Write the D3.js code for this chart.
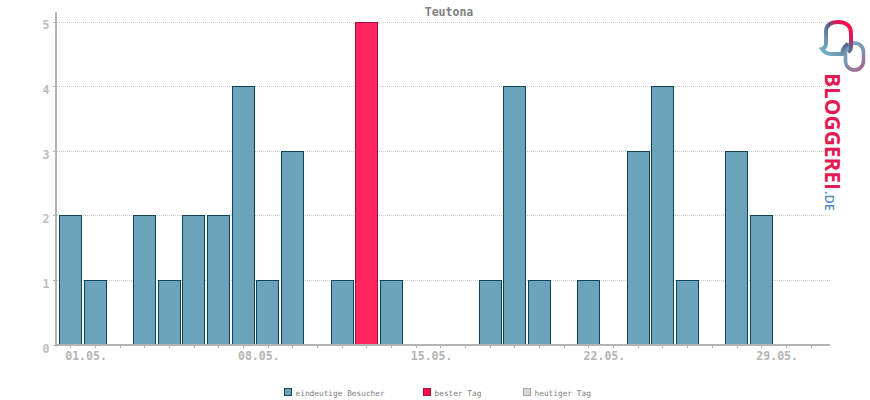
<!DOCTYPE html>
<html><head><meta charset="utf-8">
<script src="https://cdn.jsdelivr.net/npm/d3@7"></script>
<style>
html,body{margin:0;padding:0;background:#fff}
svg{display:block}
text{font-family:"DejaVu Sans Mono",monospace}
</style></head><body>
<div id="c"></div>
<script>
const title = "Teutona";
const days = d3.range(1,32);
const visitors = [2,1,0,2,1,2,2,4,1,3,0,1,5,1,0,0,0,1,4,1,0,1,0,3,4,1,0,3,2,0,0];
const bestDay = 13;
const yTicks = [0,1,2,3,4,5];
const xLabelDays = [1,8,15,22,29];
const xLabels = ["01.05.","08.05.","15.05.","22.05.","29.05."];
const legendItems = [
 {label:"eindeutige Besucher",fill:"#6ba3bb",stroke:"#0f4559"},
 {label:"bester Tag",fill:"#ff0a4e",stroke:"#a80f3f"},
 {label:"heutiger Tag",fill:"#d6d6d6",stroke:"#a8a8a8"}];

const W=870,H=400;
const svg=d3.select("#c").append("svg").attr("width",W).attr("height",H);
const x=d3.scaleBand().domain(days).range([57.82,822.9]).paddingInner(0.1).paddingOuter(0.05);
const y=d3.scaleLinear().domain([0,5]).range([345,21.7]);
const cx=d=>x(d)+x.bandwidth()/2;
const py=v=>Math.round(y(v)-.2)+.5;

// grid
svg.append("g").selectAll("line").data(yTicks.slice(1)).join("line")
 .attr("x1",57).attr("x2",830).attr("y1",d=>py(d)).attr("y2",d=>py(d))
 .attr("stroke","#c8c8c8").attr("stroke-dasharray","1 1").attr("shape-rendering","crispEdges");

// bars
svg.append("g").selectAll("rect").data(days.filter((d,i)=>visitors[i]>0)).join("rect")
 .attr("x",d=>Math.round(x(d))+.5).attr("width",d=>Math.round(x.bandwidth()))
 .attr("y",d=>py(visitors[d-1])).attr("height",d=>345.5-py(visitors[d-1]))
 .attr("fill",d=>d===bestDay?"#ff2660":"#6ba3bb")
 .attr("stroke",d=>d===bestDay?"#a80f3f":"#0f4559").attr("stroke-width",1);

// axes
const axisCol="#b4b4b4";
svg.append("line").attr("x1",56).attr("x2",56).attr("y1",12).attr("y2",346.5).attr("stroke",axisCol).attr("stroke-width",2);
svg.append("line").attr("x1",55).attr("x2",830).attr("y1",345).attr("y2",345).attr("stroke",axisCol).attr("stroke-width",2);
svg.append("g").selectAll("line").data(days).join("line")
 .attr("x1",d=>Math.round(cx(d))+.5).attr("x2",d=>Math.round(cx(d))+.5)
 .attr("y1",346).attr("y2",348).attr("stroke",axisCol);
svg.append("g").selectAll("line").data(yTicks).join("line")
 .attr("x1",53).attr("x2",57).attr("y1",d=>py(d)).attr("y2",d=>py(d)).attr("stroke",axisCol);

svg.append("g").selectAll("text").data(yTicks).join("text")
 .attr("x",49.5).attr("y",d=>y(d)+7.5).attr("text-anchor","end")
 .attr("font-size",11.6).attr("font-weight","bold").attr("fill","#bcbcbc").text(d=>d);
svg.append("g").selectAll("text").data(xLabelDays).join("text")
 .attr("x",d=>cx(d)-5).attr("y",360).attr("font-size",11.6).attr("fill","#b4b4b4")
 .attr("font-weight","bold").text((d,i)=>xLabels[i]);

svg.append("text").attr("x",449).attr("y",16).attr("text-anchor","middle")
 .attr("font-size",11.5).attr("font-weight","bold").attr("fill","#808080").text(title);

// legend
const legX=[284,423,523];
const lg=svg.append("g").selectAll("g").data(legendItems).join("g")
 .attr("transform",(d,i)=>`translate(${legX[i]},388)`);
lg.append("rect").attr("x",.5).attr("y",.5).attr("width",7).attr("height",7)
 .attr("fill",d=>d.fill).attr("stroke",d=>d.stroke);
lg.append("text").attr("x",11.5).attr("y",7.5).attr("font-size",7.8).attr("fill","#808080").text(d=>d.label);

// logo
const defs=svg.append("defs");
const g1=defs.append("linearGradient").attr("id","txtG").attr("gradientUnits","userSpaceOnUse")
 .attr("x1",0).attr("y1",73).attr("x2",0).attr("y2",190);
[[0,"#e31a52"],[.3,"#c9285f"],[.55,"#96497c"],[.8,"#5f6f98"],[1,"#4f86a8"]].forEach(s=>g1.append("stop").attr("offset",s[0]).attr("stop-color",s[1]));
const g2=defs.append("linearGradient").attr("id","bubG").attr("gradientUnits","userSpaceOnUse")
 .attr("x1",825).attr("y1",55).attr("x2",853).attr("y2",28);
[[0,"#6fb0c6"],[.3,"#6f95b2"],[.6,"#5a5f88"],[.8,"#e01a55"],[1,"#ff0a4e"]].forEach(s=>g2.append("stop").attr("offset",s[0]).attr("stop-color",s[1]));
const g3=defs.append("linearGradient").attr("id","loopG").attr("gradientUnits","userSpaceOnUse")
 .attr("x1",845).attr("y1",45).attr("x2",865).attr("y2",70);
[[0,"#6fa8c0"],[.5,"#7b95b0"],[1,"#b25a85"]].forEach(s=>g3.append("stop").attr("offset",s[0]).attr("stop-color",s[1]));
svg.append("rect").attr("x",845.5).attr("y",43).attr("width",18).attr("height",27).attr("rx",9)
 .attr("fill","none").attr("stroke","url(#loopG)").attr("stroke-width",3.6);
svg.append("path").attr("d","M848 44 C846 45 843 47 842 54 L831 54 C827 54 824 52 822 49 C825 48 826 46 826 43 L826 32 C826 25 831 22 838 22 C846 22 851 26 851 33 L851 46 C851 49 850 51 848 52")
 .attr("fill","none").attr("stroke","url(#bubG)").attr("stroke-width",4);
svg.append("text").attr("transform","translate(824.5,73) rotate(90)")
 .style("font-family","'Open Sans',Roboto,sans-serif")
 .attr("font-size",21).attr("font-weight","bold").attr("fill","url(#txtG)")
 .attr("textLength",117).attr("lengthAdjust","spacingAndGlyphs").text("BLOGGEREI");
svg.append("text").attr("transform","translate(825,191) rotate(90)")
 .style("font-family","'Open Sans',Roboto,sans-serif")
 .attr("font-size",13).attr("font-weight",600).attr("fill","#4f8fb0")
 .attr("textLength",20).attr("lengthAdjust","spacingAndGlyphs").text(".DE");
</script>
</body></html>
